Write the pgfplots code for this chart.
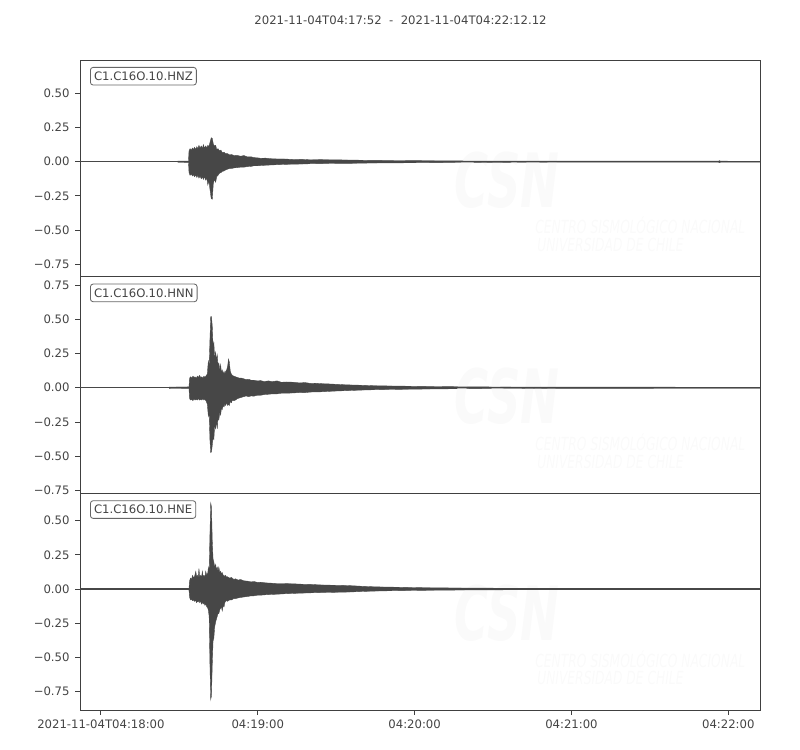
\documentclass[border=0pt]{standalone}
\usepackage{fontspec}
\setmainfont{DejaVu Sans}
\usepackage{pgfplots}
\pgfplotsset{compat=1.18}
\usepgfplotslibrary{fillbetween}
\definecolor{trace}{HTML}{474747}
\definecolor{frame}{HTML}{404040}
\definecolor{txt}{HTML}{444444}
\definecolor{wm}{HTML}{FAFAFA}
\pgfplotsset{wave/.style={
  scale only axis, width=489.6pt, height=156pt,
  xmin=0, xmax=260.12,
  axis line style={frame, line width=0.6pt},
  tick style={frame, line width=0.6pt},
  tick align=outside, xtick pos=bottom, ytick pos=left,
  major tick length=3.5pt,
  tick label style={font=\fontsize{8.4}{10}\selectfont, text=txt},
  yticklabel style={xshift=-0.5pt},
  anchor=south west,
}}
\tikzset{
lab/.style={anchor=north west, draw=black!60, fill=white, rounded corners=2pt,
  inner xsep=2.6pt, inner ysep=3.2pt, line width=0.6pt, font=\fontsize{8.4}{10}\selectfont, text=txt,
  xshift=7.2pt, yshift=-5pt},
wmbig/.style={text=wm, font=\fontsize{54}{54}\selectfont\bfseries\itshape, xscale=0.62},
wmsmall/.style={text=wm, font=\fontsize{13}{13}\selectfont\itshape, xscale=0.68, anchor=center}
}
\newcommand{\watermark}{%
  \node[wmbig] at (rel axis cs:0.628,0.446) {CSN};
  \node[wmsmall] at (rel axis cs:0.824,0.235) {CENTRO SISMOLÓGICO NACIONAL};
  \node[wmsmall] at (rel axis cs:0.78,0.147) {UNIVERSIDAD DE CHILE};
}
\begin{document}
\begin{tikzpicture}
\node[font=\fontsize{8.4}{10}\selectfont, text=txt] at (288.4pt,525.6pt) {2021-11-04T04:17:52\ \ -\ \ 2021-11-04T04:22:12.12};

% ---------------- HNZ ----------------
\begin{axis}[wave, at={(57.6pt,340.8pt)}, ymin=-0.841, ymax=0.744,
  xtick=\empty,
  ytick={-0.75,-0.5,-0.25,0,0.25,0.5},
  yticklabels={−0.75,−0.50,−0.25,0.00,0.25,0.50}]
\watermark
\addplot[draw=trace, line width=0.25pt, name path=u] coordinates {
(37.3,0.004)(41.5,0.005)(41.7,0.08)(42.1,0.095)(42.6,0.085)(43.0,0.10)(43.4,0.09)(43.8,0.105)(44.3,0.09)(44.7,0.11)(45.1,0.095)(45.5,0.12)(45.9,0.10)(46.4,0.115)(46.8,0.095)(47.2,0.125)(47.6,0.10)(48.1,0.115)(48.5,0.10)(48.9,0.12)(49.3,0.11)(49.7,0.14)(50.2,0.175)(50.6,0.17)(51.0,0.13)(51.4,0.115)(51.9,0.12)(52.3,0.09)(52.8,0.095)(53.3,0.08)(53.9,0.085)(54.5,0.065)(55.1,0.07)(55.7,0.058)(56.4,0.06)(57.2,0.05)(58.0,0.052)(59.0,0.045)(60.0,0.047)(61.4,0.04)(62.7,0.045)(64.0,0.035)(65.5,0.036)(66.5,0.03)(68,0.028)(69.1,0.025)(71,0.026)(73,0.022)(75.4,0.02)(78,0.02)(81.8,0.016)(85,0.017)(88,0.014)(92,0.015)(96,0.014)(100,0.013)(104,0.012)(110,0.01)(118,0.009)(126,0.008)(135,0.007)(142,0.006)(155,0.005)(180,0.004)(230,0.004)(244.3,0.004)(244.6,0.008)(245,0.004)(260.12,0.003)};
\addplot[draw=trace, line width=0.25pt, name path=l] coordinates {
(37.3,-0.004)(41.5,-0.005)(41.7,-0.08)(42.1,-0.10)(42.6,-0.09)(43.0,-0.105)(43.4,-0.095)(43.8,-0.11)(44.3,-0.10)(44.7,-0.115)(45.1,-0.10)(45.5,-0.12)(45.9,-0.105)(46.4,-0.125)(46.8,-0.11)(47.2,-0.13)(47.6,-0.11)(48.1,-0.135)(48.5,-0.12)(48.9,-0.17)(49.3,-0.14)(49.7,-0.20)(50.2,-0.27)(50.6,-0.275)(51.0,-0.16)(51.4,-0.13)(51.9,-0.15)(52.3,-0.11)(52.8,-0.10)(53.3,-0.085)(53.9,-0.08)(54.5,-0.07)(55.1,-0.068)(55.7,-0.06)(56.4,-0.055)(57.2,-0.05)(58.0,-0.05)(59.0,-0.045)(60.0,-0.044)(61.4,-0.04)(62.7,-0.04)(64.0,-0.036)(65.5,-0.034)(66.5,-0.03)(68,-0.03)(69.1,-0.028)(71,-0.026)(73,-0.024)(75.4,-0.022)(78,-0.02)(81.8,-0.018)(85,-0.017)(88,-0.015)(92,-0.014)(96,-0.013)(100,-0.012)(104,-0.012)(110,-0.01)(118,-0.009)(126,-0.008)(135,-0.007)(142,-0.006)(155,-0.005)(180,-0.004)(230,-0.004)(244.3,-0.004)(244.6,-0.008)(245,-0.004)(260.12,-0.003)};
\addplot[trace] fill between[of=u and l];
\addplot[trace, line width=0.75pt] coordinates {(0,0) (260.12,0)};
\node[lab] at (rel axis cs:0,1) {C1.C16O.10.HNZ};
\end{axis}

% ---------------- HNN ----------------
\begin{axis}[wave, at={(57.6pt,184.8pt)}, ymin=-0.772, ymax=0.812,
  xtick=\empty,
  ytick={-0.75,-0.5,-0.25,0,0.25,0.5,0.75},
  yticklabels={−0.75,−0.50,−0.25,0.00,0.25,0.50,0.75}]
\watermark
\addplot[draw=trace, line width=0.25pt, name path=u] coordinates {
(34.1,0.005)(41.7,0.006)(41.9,0.07)(42.3,0.08)(42.8,0.07)(43.2,0.085)(43.6,0.075)(44.0,0.08)(44.5,0.07)(44.9,0.085)(45.3,0.075)(45.7,0.09)(46.2,0.075)(46.6,0.08)(47.0,0.07)(47.4,0.085)(47.8,0.075)(48.3,0.09)(48.7,0.10)(49.1,0.20)(49.4,0.15)(49.7,0.35)(50.0,0.52)(50.3,0.52)(50.6,0.45)(50.9,0.30)(51.2,0.33)(51.5,0.22)(51.9,0.26)(52.2,0.20)(52.5,0.24)(52.8,0.16)(53.1,0.18)(53.5,0.13)(53.8,0.17)(54.1,0.11)(54.4,0.13)(54.8,0.10)(55.1,0.12)(55.4,0.10)(55.7,0.12)(56.1,0.13)(56.5,0.16)(56.8,0.21)(57.1,0.19)(57.5,0.12)(57.9,0.10)(58.3,0.09)(58.8,0.085)(59.5,0.08)(60.2,0.075)(61.0,0.07)(61.8,0.07)(62.7,0.065)(63.5,0.06)(64.5,0.062)(65.5,0.055)(66.5,0.055)(67.8,0.05)(69.1,0.052)(70.5,0.045)(72,0.05)(73.5,0.045)(75.4,0.05)(77,0.04)(79,0.042)(81.8,0.04)(84,0.035)(86,0.038)(88,0.032)(90,0.033)(92,0.03)(95,0.028)(98,0.025)(101,0.022)(104,0.02)(108,0.018)(112,0.015)(118,0.013)(122,0.012)(130,0.01)(141,0.008)(155,0.006)(170,0.005)(200,0.005)(230,0.004)(260.12,0.004)};
\addplot[draw=trace, line width=0.25pt, name path=l] coordinates {
(34.1,-0.005)(41.7,-0.006)(41.9,-0.08)(42.3,-0.09)(42.8,-0.085)(43.2,-0.095)(43.6,-0.08)(44.0,-0.09)(44.5,-0.085)(44.9,-0.09)(45.3,-0.08)(45.7,-0.09)(46.2,-0.085)(46.6,-0.09)(47.0,-0.08)(47.4,-0.09)(47.8,-0.085)(48.3,-0.10)(48.7,-0.12)(49.1,-0.21)(49.4,-0.18)(49.7,-0.38)(50.0,-0.475)(50.3,-0.47)(50.6,-0.42)(50.9,-0.36)(51.2,-0.38)(51.5,-0.28)(51.9,-0.30)(52.2,-0.24)(52.5,-0.30)(52.8,-0.22)(53.1,-0.235)(53.5,-0.18)(53.8,-0.20)(54.1,-0.15)(54.4,-0.16)(54.8,-0.13)(55.1,-0.14)(55.4,-0.12)(55.7,-0.13)(56.1,-0.11)(56.5,-0.13)(56.8,-0.12)(57.1,-0.13)(57.5,-0.10)(57.9,-0.11)(58.3,-0.09)(58.8,-0.095)(59.5,-0.09)(60.2,-0.08)(61.0,-0.075)(61.8,-0.07)(62.7,-0.065)(63.5,-0.06)(64.5,-0.065)(65.5,-0.06)(66.5,-0.062)(67.8,-0.055)(69.1,-0.055)(70.5,-0.05)(72,-0.048)(73.5,-0.045)(75.4,-0.045)(77,-0.04)(79,-0.04)(81.8,-0.038)(84,-0.035)(86,-0.036)(88,-0.032)(90,-0.03)(92,-0.03)(95,-0.027)(98,-0.024)(101,-0.022)(104,-0.02)(108,-0.017)(112,-0.015)(118,-0.013)(122,-0.012)(130,-0.01)(141,-0.008)(155,-0.006)(170,-0.005)(200,-0.005)(230,-0.004)(260.12,-0.004)};
\addplot[trace] fill between[of=u and l];
\addplot[trace, line width=0.75pt] coordinates {(0,0) (260.12,0)};
\node[lab] at (rel axis cs:0,1) {C1.C16O.10.HNN};
\end{axis}

% ---------------- HNE ----------------
\begin{axis}[wave, at={(57.6pt,28.8pt)}, ymin=-0.885, ymax=0.700,
  xtick={8,68,128,188,248},
  xticklabels={2021-11-04T04:18:00,04:19:00,04:20:00,04:21:00,04:22:00},
  ytick={-0.75,-0.5,-0.25,0,0.25,0.5},
  yticklabels={−0.75,−0.50,−0.25,0.00,0.25,0.50}]
\watermark
\addplot[draw=trace, line width=0.25pt, name path=u] coordinates {
(34.1,0.004)(41.7,0.006)(41.9,0.06)(42.3,0.08)(42.7,0.07)(43.0,0.10)(43.4,0.085)(43.8,0.09)(44.3,0.13)(44.6,0.09)(44.9,0.10)(45.2,0.085)(45.5,0.15)(45.8,0.09)(46.2,0.10)(46.5,0.085)(46.8,0.13)(47.1,0.09)(47.4,0.10)(47.8,0.09)(48.1,0.13)(48.5,0.10)(48.9,0.12)(49.1,0.16)(49.4,0.12)(49.7,0.40)(50.0,0.63)(50.3,0.60)(50.6,0.35)(50.9,0.22)(51.2,0.20)(51.5,0.16)(51.9,0.18)(52.2,0.14)(52.5,0.16)(52.8,0.13)(53.1,0.16)(53.5,0.12)(53.8,0.13)(54.1,0.11)(54.4,0.12)(54.8,0.10)(55.1,0.10)(55.4,0.09)(55.7,0.10)(56.1,0.085)(56.4,0.09)(57.2,0.08)(58.0,0.085)(58.8,0.07)(59.5,0.075)(60.5,0.065)(61.4,0.07)(62.7,0.06)(64,0.058)(65.5,0.052)(66.5,0.055)(68,0.048)(69.1,0.05)(71,0.045)(73,0.043)(75.4,0.04)(78,0.04)(81.8,0.038)(85,0.035)(88,0.034)(92,0.03)(96,0.028)(100,0.027)(103,0.025)(108,0.02)(113,0.016)(118,0.014)(122,0.013)(130,0.01)(141,0.008)(150,0.007)(160,0.006)(180,0.005)(200,0.005)(230,0.004)(260.12,0.004)};
\addplot[draw=trace, line width=0.25pt, name path=l] coordinates {
(34.1,-0.004)(41.7,-0.006)(41.9,-0.06)(42.3,-0.08)(42.7,-0.075)(43.0,-0.085)(43.4,-0.08)(43.8,-0.09)(44.3,-0.085)(44.6,-0.10)(44.9,-0.09)(45.2,-0.095)(45.5,-0.085)(45.8,-0.10)(46.2,-0.09)(46.5,-0.11)(46.8,-0.095)(47.1,-0.11)(47.4,-0.10)(47.8,-0.12)(48.1,-0.11)(48.5,-0.13)(48.9,-0.14)(49.1,-0.155)(49.4,-0.20)(49.7,-0.55)(50.0,-0.81)(50.3,-0.78)(50.6,-0.55)(50.9,-0.38)(51.2,-0.36)(51.5,-0.28)(51.9,-0.24)(52.2,-0.22)(52.5,-0.20)(52.8,-0.18)(53.1,-0.18)(53.5,-0.15)(53.8,-0.14)(54.1,-0.13)(54.4,-0.16)(54.8,-0.12)(55.1,-0.13)(55.4,-0.10)(55.7,-0.09)(56.1,-0.085)(56.4,-0.09)(57.2,-0.08)(58.0,-0.08)(58.8,-0.07)(59.5,-0.07)(60.5,-0.065)(61.4,-0.062)(62.7,-0.058)(64,-0.055)(65.5,-0.05)(66.5,-0.05)(68,-0.045)(69.1,-0.045)(71,-0.042)(73,-0.04)(75.4,-0.038)(78,-0.035)(81.8,-0.032)(85,-0.03)(88,-0.028)(92,-0.026)(96,-0.025)(100,-0.023)(103,-0.022)(108,-0.018)(113,-0.015)(118,-0.013)(122,-0.012)(130,-0.01)(141,-0.008)(150,-0.007)(160,-0.006)(180,-0.005)(200,-0.005)(230,-0.004)(260.12,-0.004)};
\addplot[trace] fill between[of=u and l];
\addplot[trace, line width=0.75pt] coordinates {(0,0) (260.12,0)};
\node[lab] at (rel axis cs:0,1) {C1.C16O.10.HNE};
\end{axis}
\path (0,0) rectangle (576pt,540pt);
\end{tikzpicture}
\end{document}
